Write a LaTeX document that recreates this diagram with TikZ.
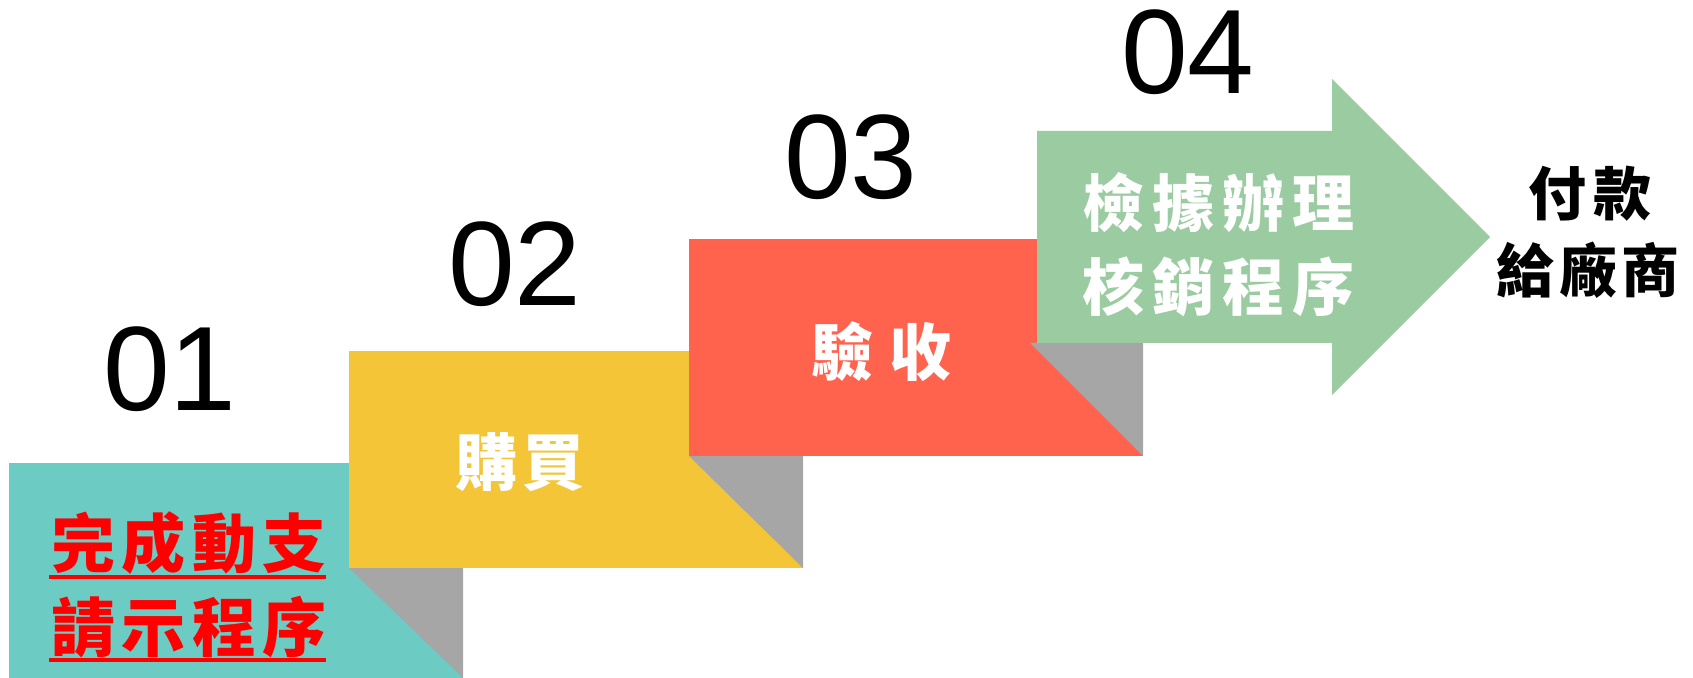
\documentclass[tikz,border=0pt]{standalone}
\usepackage{fontspec}
\setmainfont{Liberation Sans}
\newfontfamily\cjk{Noto Sans CJK TC}
\definecolor{cteal}{RGB}{108,204,196}
\definecolor{cyel}{RGB}{244,198,55}
\definecolor{cred}{RGB}{255,98,77}
\definecolor{cgrn}{RGB}{155,203,161}
\definecolor{cgry}{RGB}{166,166,166}
\definecolor{ctxtred}{RGB}{255,0,0}
\tikzset{
  num/.style={font=\fontsize{60pt}{60pt}\selectfont, text=black, inner sep=0pt},
  wtxt/.style={font=\cjk\bfseries\fontsize{31pt}{31pt}\selectfont, text=white, inner sep=0pt, align=center},
  rtxt/.style={font=\cjk\bfseries\fontsize{32pt}{32pt}\selectfont, text=ctxtred, inner sep=0pt},
  btxt/.style={font=\cjk\bfseries\fontsize{29pt}{29pt}\selectfont, text=black, inner sep=0pt},
  fold/.style={fill=cgry, draw=none},
}
\begin{document}
\begin{tikzpicture}[x=0.5pt,y=-0.5pt]
\useasboundingbox (0,0) rectangle (1693,678);
% step 1
\fill[cteal] (9,463) rectangle (463,678);
\fill[fold] (349,568) -- (463,568) -- (463,678) -- cycle;
% step 2
\fill[cyel] (349,351) rectangle (803,568);
\fill[fold] (689,456) -- (803,456) -- (803,568) -- cycle;
% step 3
\fill[cred] (689,239) rectangle (1143,456);
\fill[fold] (1030,343) -- (1143,343) -- (1143,456) -- cycle;
% step 4 arrow
\fill[cgrn] (1037,131) -- (1332,131) -- (1332,79) -- (1490,237) -- (1332,395) -- (1332,343) -- (1037,343) -- cycle;
% numbers
\node[num] (n1) at (170,369) {01};
\node[num] (n2) at (515,264) {02};
\node[num] (n3) at (851,157) {03};
\node[num] (n4) at (1188,52) {04};
% texts
\node[rtxt] (r1) at (189,543) {完\kern3.3pt 成\kern3.3pt 動\kern3.3pt 支};
\node[rtxt] (r2) at (189,627) {請\kern3.3pt 示\kern3.3pt 程\kern3.3pt 序};
\draw[ctxtred, line width=1.6pt] (49,577) -- (326,577);
\draw[ctxtred, line width=1.6pt] (49,660) -- (326,660);
\node[wtxt] (t2) at (520,462) {購\kern3pt 買};
\node[wtxt] (t3) at (881,352) {驗\kern8pt 收};
\node[wtxt] (t4a) at (1218,203) {檢\kern4pt 據\kern4pt 辦\kern4pt 理};
\node[wtxt] (t4b) at (1218,287) {核\kern4pt 銷\kern4pt 程\kern4pt 序};
\node[btxt] (p1) at (1590,194) {付\kern4pt 款};
\node[btxt] (p2) at (1588,270) {給\kern2.5pt 廠\kern2.5pt 商};
\end{tikzpicture}
\end{document}
